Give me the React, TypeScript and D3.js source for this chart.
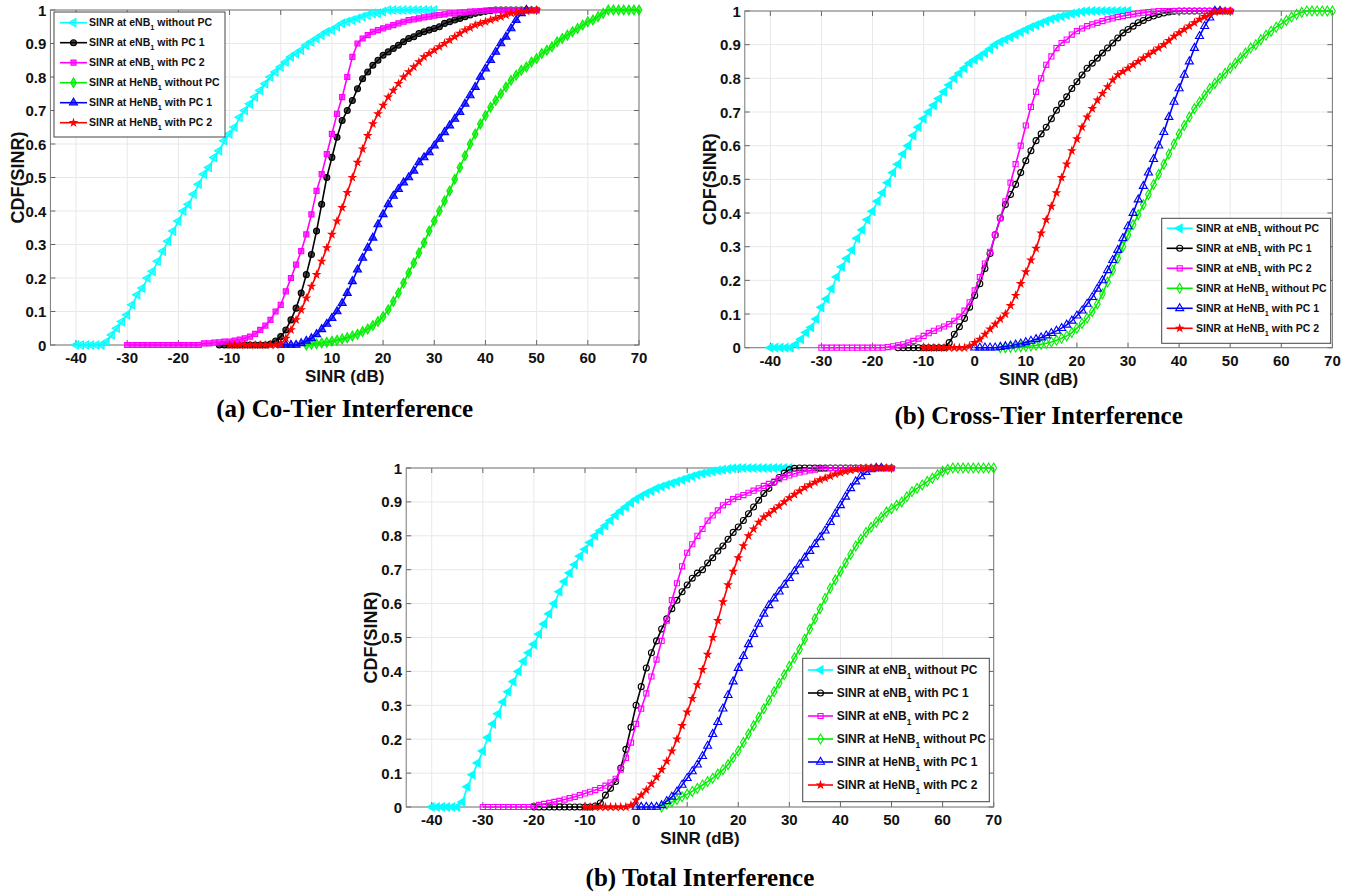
import React from 'react';
import * as d3 from 'd3';

// ---------- axes / labels ----------
const X_DOMAIN: [number, number] = [-45, 70];
const X_TICKS = [-40, -30, -20, -10, 0, 10, 20, 30, 40, 50, 60, 70];
const Y_TICKS = [0, 0.1, 0.2, 0.3, 0.4, 0.5, 0.6, 0.7, 0.8, 0.9, 1];
const X_LABEL = 'SINR (dB)';
const Y_LABEL = 'CDF(SINR)';
const TITLES = ['(a) Co-Tier Interference', '(b) Cross-Tier Interference', '(b) Total Interference'];

// ---------- series ----------
const LEGEND_PREFIX = ['SINR at eNB', 'SINR at eNB', 'SINR at eNB', 'SINR at HeNB', 'SINR at HeNB', 'SINR at HeNB'];
const LEGEND_SUB = ['1', '1', '1', '1', '1', '1'];
const LEGEND_SUFFIX = [' without PC', ' with PC 1', ' with PC 2', ' without PC', ' with PC 1', ' with PC 2'];
const SERIES_COLORS = ['#00ffff', '#000000', '#ff00ff', '#00ee00', '#0000ff', '#ff0000'];
const SERIES_MARKERS = ['triLeft', 'circle', 'square', 'diamond', 'triUp', 'star'];

// SINR grid step (dB) for all curves
const STEP_DB = 1;

// (a) Co-Tier Interference: first SINR value (dB) of each series
const CO_TIER_START = [-40, -12, -30, 5, 0, -10];
const coTierEnbNoPc = [0, 0, 0, 0, 0, 0, 0.01, 0.03, 0.05, 0.07, 0.09, 0.12, 0.15, 0.17, 0.2, 0.22, 0.25, 0.28, 0.31, 0.34, 0.37, 0.4, 0.42, 0.45, 0.48, 0.51, 0.53, 0.56, 0.58, 0.61, 0.63, 0.65, 0.68, 0.7, 0.72, 0.74, 0.76, 0.78, 0.8, 0.815, 0.83, 0.845, 0.86, 0.87, 0.88, 0.895, 0.905, 0.915, 0.925, 0.935, 0.94, 0.95, 0.96, 0.965, 0.97, 0.975, 0.98, 0.985, 0.99, 0.99, 0.995, 1, 1, 1, 1, 1, 1, 1, 1, 1, 1];
const coTierEnbPc1 = [0, 0, 0, 0, 0, 0, 0, 0, 0, 0, 0.003, 0.012, 0.025, 0.045, 0.075, 0.11, 0.155, 0.21, 0.27, 0.34, 0.42, 0.5, 0.56, 0.62, 0.67, 0.7, 0.73, 0.765, 0.795, 0.815, 0.835, 0.85, 0.865, 0.875, 0.885, 0.895, 0.905, 0.915, 0.92, 0.93, 0.935, 0.94, 0.945, 0.95, 0.96, 0.965, 0.97, 0.975, 0.98, 0.985, 0.99, 0.993, 0.996, 0.998, 1, 1, 1, 1, 1, 1, 1, 1, 1];
const coTierEnbPc2 = [0, 0, 0, 0, 0, 0, 0, 0, 0, 0, 0, 0, 0, 0, 0, 0.005, 0.005, 0.007, 0.008, 0.01, 0.01, 0.013, 0.016, 0.02, 0.025, 0.033, 0.045, 0.058, 0.075, 0.1, 0.12, 0.16, 0.2, 0.24, 0.28, 0.33, 0.39, 0.46, 0.51, 0.57, 0.63, 0.69, 0.74, 0.8, 0.86, 0.9, 0.915, 0.925, 0.935, 0.94, 0.945, 0.95, 0.955, 0.96, 0.965, 0.97, 0.972, 0.975, 0.978, 0.98, 0.983, 0.985, 0.987, 0.99, 0.99, 0.992, 0.993, 0.995, 0.996, 0.997, 0.998, 1, 1, 1, 1, 1, 1, 1, 1, 1, 1];
const coTierHenbNoPc = [0, 0.002, 0.004, 0.006, 0.008, 0.011, 0.014, 0.018, 0.022, 0.027, 0.032, 0.04, 0.048, 0.058, 0.07, 0.085, 0.105, 0.13, 0.155, 0.185, 0.215, 0.245, 0.275, 0.305, 0.34, 0.37, 0.4, 0.43, 0.46, 0.495, 0.53, 0.565, 0.6, 0.63, 0.66, 0.685, 0.71, 0.73, 0.75, 0.77, 0.79, 0.805, 0.82, 0.83, 0.845, 0.855, 0.87, 0.88, 0.89, 0.905, 0.915, 0.925, 0.935, 0.945, 0.955, 0.965, 0.97, 0.98, 0.99, 1, 1, 1, 1, 1, 1, 1];
const coTierHenbPc1 = [0, 0, 0, 0, 0.005, 0.012, 0.02, 0.032, 0.047, 0.063, 0.08, 0.1, 0.125, 0.155, 0.19, 0.225, 0.26, 0.29, 0.32, 0.36, 0.39, 0.42, 0.445, 0.465, 0.485, 0.5, 0.52, 0.545, 0.56, 0.575, 0.595, 0.615, 0.635, 0.655, 0.675, 0.695, 0.72, 0.745, 0.77, 0.8, 0.825, 0.85, 0.875, 0.9, 0.92, 0.945, 0.97, 0.99, 1];
const coTierHenbPc2 = [0, 0, 0, 0, 0, 0, 0, 0, 0, 0, 0.003, 0.02, 0.045, 0.075, 0.105, 0.14, 0.175, 0.21, 0.25, 0.29, 0.33, 0.37, 0.41, 0.455, 0.5, 0.545, 0.585, 0.625, 0.66, 0.69, 0.715, 0.74, 0.76, 0.78, 0.8, 0.815, 0.83, 0.845, 0.86, 0.87, 0.88, 0.89, 0.9, 0.91, 0.92, 0.93, 0.94, 0.947, 0.955, 0.96, 0.965, 0.97, 0.975, 0.98, 0.985, 0.99, 0.992, 0.995, 0.997, 0.999, 1];

// (b) Cross-Tier Interference
const CROSS_TIER_START = [-40, -15, -30, 5, 0, -10];
const crossTierEnbNoPc = [0, 0, 0, 0, 0, 0.01, 0.025, 0.045, 0.06, 0.085, 0.12, 0.145, 0.175, 0.21, 0.24, 0.265, 0.29, 0.325, 0.35, 0.38, 0.405, 0.435, 0.46, 0.49, 0.52, 0.545, 0.575, 0.6, 0.63, 0.655, 0.68, 0.7, 0.72, 0.74, 0.76, 0.78, 0.8, 0.815, 0.83, 0.845, 0.855, 0.865, 0.875, 0.887, 0.9, 0.908, 0.915, 0.922, 0.93, 0.937, 0.945, 0.952, 0.958, 0.964, 0.97, 0.976, 0.98, 0.984, 0.988, 0.992, 0.995, 0.998, 1, 1, 1, 1, 1, 1, 1, 1, 1];
const crossTierEnbPc1 = [0, 0, 0, 0, 0, 0, 0, 0, 0, 0, 0.015, 0.04, 0.062, 0.087, 0.12, 0.155, 0.19, 0.235, 0.28, 0.335, 0.385, 0.425, 0.455, 0.485, 0.52, 0.555, 0.585, 0.615, 0.635, 0.655, 0.68, 0.705, 0.725, 0.745, 0.77, 0.79, 0.81, 0.83, 0.845, 0.86, 0.875, 0.89, 0.905, 0.92, 0.935, 0.945, 0.955, 0.965, 0.972, 0.98, 0.985, 0.99, 0.994, 0.997, 0.999, 1, 1, 1, 1, 1, 1, 1, 1, 1, 1, 1];
const crossTierEnbPc2 = [0, 0, 0, 0, 0, 0, 0, 0, 0, 0, 0, 0, 0, 0.002, 0.004, 0.007, 0.01, 0.015, 0.02, 0.027, 0.035, 0.043, 0.05, 0.057, 0.063, 0.07, 0.08, 0.092, 0.11, 0.135, 0.17, 0.21, 0.25, 0.285, 0.335, 0.385, 0.435, 0.49, 0.545, 0.6, 0.66, 0.715, 0.76, 0.8, 0.84, 0.865, 0.89, 0.905, 0.915, 0.93, 0.94, 0.948, 0.955, 0.96, 0.965, 0.97, 0.975, 0.978, 0.982, 0.985, 0.988, 0.99, 0.993, 0.995, 0.997, 0.998, 1, 1, 1, 1, 1, 1, 1, 1, 1, 1, 1, 1, 1, 1, 1];
const crossTierHenbNoPc = [0, 0, 0.001, 0.002, 0.003, 0.004, 0.005, 0.007, 0.01, 0.013, 0.017, 0.022, 0.028, 0.035, 0.045, 0.058, 0.072, 0.088, 0.107, 0.13, 0.16, 0.195, 0.23, 0.265, 0.3, 0.335, 0.365, 0.395, 0.425, 0.455, 0.485, 0.515, 0.545, 0.575, 0.605, 0.635, 0.66, 0.685, 0.71, 0.73, 0.75, 0.77, 0.785, 0.8, 0.815, 0.83, 0.845, 0.86, 0.875, 0.89, 0.9, 0.915, 0.928, 0.94, 0.952, 0.962, 0.972, 0.982, 0.99, 0.996, 1, 1, 1, 1, 1, 1];
const crossTierHenbPc1 = [0, 0, 0, 0, 0, 0.002, 0.004, 0.006, 0.009, 0.012, 0.016, 0.02, 0.025, 0.03, 0.036, 0.043, 0.05, 0.058, 0.068, 0.08, 0.095, 0.11, 0.13, 0.15, 0.175, 0.2, 0.23, 0.26, 0.29, 0.325, 0.36, 0.4, 0.44, 0.48, 0.52, 0.56, 0.6, 0.64, 0.685, 0.73, 0.77, 0.81, 0.85, 0.89, 0.925, 0.955, 0.98, 1, 1];
const crossTierHenbPc2 = [0, 0, 0, 0, 0, 0, 0, 0, 0, 0.005, 0.015, 0.025, 0.04, 0.055, 0.07, 0.085, 0.1, 0.125, 0.155, 0.19, 0.225, 0.26, 0.295, 0.34, 0.38, 0.42, 0.46, 0.505, 0.545, 0.585, 0.62, 0.655, 0.685, 0.71, 0.735, 0.755, 0.775, 0.795, 0.81, 0.82, 0.83, 0.84, 0.85, 0.86, 0.87, 0.88, 0.89, 0.9, 0.912, 0.925, 0.935, 0.945, 0.955, 0.965, 0.975, 0.983, 0.99, 0.997, 1, 1, 1];

// (c) Total Interference
const TOTAL_START = [-40, -20, -30, 5, 0, -10];
const totalEnbNoPc = [0, 0, 0, 0, 0, 0, 0.015, 0.06, 0.095, 0.13, 0.165, 0.205, 0.245, 0.275, 0.31, 0.34, 0.37, 0.4, 0.43, 0.455, 0.48, 0.51, 0.54, 0.57, 0.6, 0.635, 0.665, 0.69, 0.715, 0.74, 0.76, 0.78, 0.8, 0.815, 0.83, 0.845, 0.86, 0.873, 0.885, 0.897, 0.908, 0.917, 0.925, 0.932, 0.94, 0.945, 0.95, 0.955, 0.96, 0.965, 0.97, 0.975, 0.98, 0.984, 0.987, 0.99, 0.993, 0.995, 0.997, 0.999, 1, 1, 1, 1, 1, 1, 1, 1, 1, 1, 1];
const totalEnbPc1 = [0, 0, 0, 0, 0, 0, 0, 0, 0, 0, 0, 0, 0.003, 0.012, 0.035, 0.055, 0.075, 0.115, 0.17, 0.235, 0.3, 0.355, 0.41, 0.455, 0.49, 0.525, 0.555, 0.585, 0.61, 0.635, 0.655, 0.675, 0.69, 0.7, 0.72, 0.735, 0.755, 0.77, 0.79, 0.81, 0.826, 0.845, 0.865, 0.885, 0.905, 0.925, 0.94, 0.958, 0.972, 0.985, 0.995, 0.999, 1, 1, 1, 1, 1, 1, 1, 1, 1, 1, 1, 1, 1, 1, 1, 1, 1, 1, 1];
const totalEnbPc2 = [0, 0, 0, 0, 0, 0, 0, 0, 0, 0, 0.003, 0.006, 0.009, 0.012, 0.015, 0.018, 0.022, 0.026, 0.03, 0.035, 0.04, 0.045, 0.05, 0.056, 0.063, 0.072, 0.083, 0.11, 0.145, 0.19, 0.245, 0.29, 0.335, 0.385, 0.435, 0.49, 0.55, 0.61, 0.66, 0.71, 0.75, 0.775, 0.8, 0.82, 0.845, 0.86, 0.875, 0.89, 0.9, 0.908, 0.915, 0.92, 0.927, 0.933, 0.94, 0.947, 0.953, 0.96, 0.967, 0.973, 0.978, 0.983, 0.987, 0.99, 0.993, 0.995, 0.997, 0.998, 1, 1, 1, 1, 1, 1, 1, 1, 1, 1, 1, 1, 1];
const totalHenbNoPc = [0, 0.008, 0.015, 0.022, 0.03, 0.038, 0.046, 0.055, 0.065, 0.075, 0.085, 0.097, 0.11, 0.125, 0.145, 0.165, 0.19, 0.215, 0.24, 0.265, 0.29, 0.315, 0.34, 0.365, 0.39, 0.415, 0.44, 0.465, 0.495, 0.525, 0.555, 0.585, 0.615, 0.645, 0.67, 0.695, 0.72, 0.745, 0.77, 0.79, 0.81, 0.825, 0.84, 0.855, 0.87, 0.88, 0.89, 0.9, 0.915, 0.93, 0.94, 0.95, 0.96, 0.97, 0.98, 0.99, 0.996, 1, 1, 1, 1, 1, 1, 1, 1, 1];
const totalHenbPc1 = [0, 0, 0, 0, 0, 0.005, 0.017, 0.03, 0.045, 0.065, 0.085, 0.105, 0.125, 0.15, 0.18, 0.215, 0.25, 0.29, 0.33, 0.37, 0.41, 0.445, 0.48, 0.51, 0.54, 0.57, 0.595, 0.615, 0.635, 0.655, 0.675, 0.695, 0.715, 0.735, 0.755, 0.775, 0.795, 0.815, 0.84, 0.865, 0.89, 0.915, 0.94, 0.96, 0.975, 0.988, 0.996, 1, 1];
const totalHenbPc2 = [0, 0, 0, 0, 0, 0, 0, 0, 0, 0.005, 0.02, 0.035, 0.05, 0.068, 0.088, 0.11, 0.135, 0.165, 0.2, 0.24, 0.28, 0.32, 0.36, 0.405, 0.45, 0.5, 0.55, 0.605, 0.655, 0.695, 0.735, 0.77, 0.8, 0.82, 0.84, 0.855, 0.865, 0.877, 0.888, 0.9, 0.912, 0.922, 0.932, 0.942, 0.95, 0.958, 0.965, 0.97, 0.976, 0.982, 0.986, 0.99, 0.993, 0.996, 0.998, 1, 1, 1, 1, 1, 1];

// ---------- layout (positions only) ----------
type Layout = {
  left: number; right: number; top: number; bottom: number;
  titleY: number; yLabelX: number;
  legend: { x: number; y: number; w: number; h: number; row0: number; rowGap: number; l0: number; l1: number; tx: number; font: number };
};

const LAYOUTS: Layout[] = [
  { left: 50.4, right: 639, top: 10, bottom: 345, titleY: 417, yLabelX: 24,
    legend: { x: 54, y: 12, w: 171, h: 125, row0: 22.7, rowGap: 20, l0: 60, l1: 87, tx: 89, font: 10.5 } },
  { left: 744.8, right: 1332.4, top: 11, bottom: 347.7, titleY: 424, yLabelX: 716,
    legend: { x: 1161.7, y: 218.3, w: 169, h: 125, row0: 228.3, rowGap: 20, l0: 1166.7, l1: 1192.7, tx: 1196, font: 10.5 } },
  { left: 406.2, right: 993.7, top: 468, bottom: 807, titleY: 886, yLabelX: 377,
    legend: { x: 802.7, y: 658.3, w: 186.6, h: 143.4, row0: 670, rowGap: 23, l0: 808, l1: 833, tx: 836.7, font: 12 } },
];

const PANEL_STARTS = [CO_TIER_START, CROSS_TIER_START, TOTAL_START];
const PANEL_DATA = [
  [coTierEnbNoPc, coTierEnbPc1, coTierEnbPc2, coTierHenbNoPc, coTierHenbPc1, coTierHenbPc2],
  [crossTierEnbNoPc, crossTierEnbPc1, crossTierEnbPc2, crossTierHenbNoPc, crossTierHenbPc1, crossTierHenbPc2],
  [totalEnbNoPc, totalEnbPc1, totalEnbPc2, totalHenbNoPc, totalHenbPc1, totalHenbPc2],
];

const SANS = '"Liberation Sans", Arial, Helvetica, sans-serif';
const SERIF = '"Liberation Serif", "Times New Roman", Times, serif';
const TICK_FONT = 15;

function markerPath(kind: string): { d: string; rot: number } {
  switch (kind) {
    case 'triLeft': return { d: d3.symbol(d3.symbolTriangle, 30)() as string, rot: -90 };
    case 'circle': return { d: d3.symbol(d3.symbolCircle, 28)() as string, rot: 0 };
    case 'square': return { d: d3.symbol(d3.symbolSquare, 26)() as string, rot: 0 };
    case 'diamond': return { d: d3.symbol(d3.symbolDiamond, 28)() as string, rot: 0 };
    case 'triUp': return { d: d3.symbol(d3.symbolTriangle, 28)() as string, rot: 0 };
    default: return { d: d3.symbol(d3.symbolStar, 13)() as string, rot: 0 };
  }
}

function markerFill(i: number, panel: number): string {
  const kind = SERIES_MARKERS[i];
  if (kind === 'triLeft' || kind === 'star') return SERIES_COLORS[i];
  return panel === 0 ? SERIES_COLORS[i] : 'none';
}

function Panel({ idx }: { idx: number }) {
  const L = LAYOUTS[idx];
  const starts = PANEL_STARTS[idx];
  const data = PANEL_DATA[idx];
  const x = d3.scaleLinear().domain(X_DOMAIN).range([L.left, L.right]);
  const y = d3.scaleLinear().domain([0, 1]).range([L.bottom, L.top]);
  const line = d3.line<[number, number]>().x((d) => x(d[0])).y((d) => y(d[1]));
  const cx = (L.left + L.right) / 2;
  const cy = (L.top + L.bottom) / 2;
  const tick = 5;
  const lg = L.legend;

  return (
    <g>
      <rect x={L.left} y={L.top} width={L.right - L.left} height={L.bottom - L.top} fill="#ffffff" />
      {X_TICKS.map((t) => (
        <line key={'gx' + t} x1={x(t)} x2={x(t)} y1={L.top} y2={L.bottom} stroke="#e8e8e8" strokeWidth={1} />
      ))}
      {Y_TICKS.map((t) => (
        <line key={'gy' + t} x1={L.left} x2={L.right} y1={y(t)} y2={y(t)} stroke="#e8e8e8" strokeWidth={1} />
      ))}
      {X_TICKS.map((t) => (
        <g key={'tx' + t}>
          <line x1={x(t)} x2={x(t)} y1={L.bottom} y2={L.bottom - tick} stroke="#666" />
          <line x1={x(t)} x2={x(t)} y1={L.top} y2={L.top + tick} stroke="#666" />
          <text x={x(t)} y={L.bottom + 18} textAnchor="middle" fontFamily={SANS} fontWeight="bold" fontSize={TICK_FONT} fill="#111">{t}</text>
        </g>
      ))}
      {Y_TICKS.map((t) => (
        <g key={'ty' + t}>
          <line x1={L.left} x2={L.left + tick} y1={y(t)} y2={y(t)} stroke="#666" />
          <line x1={L.right} x2={L.right - tick} y1={y(t)} y2={y(t)} stroke="#666" />
          <text x={L.left - 4} y={y(t) + 5.5} textAnchor="end" fontFamily={SANS} fontWeight="bold" fontSize={TICK_FONT} fill="#111">{String(+t.toFixed(1))}</text>
        </g>
      ))}
      <rect x={L.left} y={L.top} width={L.right - L.left} height={L.bottom - L.top} fill="none" stroke="#777" strokeWidth={1} />

      {data.map((vals, i) => {
        const pts: [number, number][] = vals.map((v, k) => [starts[i] + k * STEP_DB, v]);
        const m = markerPath(SERIES_MARKERS[i]);
        const fill = markerFill(i, idx);
        return (
          <g key={'s' + i}>
            <path d={line(pts) as string} fill="none" stroke={SERIES_COLORS[i]} strokeWidth={1.6} />
            {pts.map((p, k) => (
              <path key={k} d={m.d} transform={`translate(${x(p[0])},${y(p[1])}) rotate(${m.rot})`}
                fill={fill} fillOpacity={idx === 0 ? 0.7 : 1} stroke={SERIES_COLORS[i]} strokeWidth={1.1} />
            ))}
          </g>
        );
      })}

      <rect x={lg.x} y={lg.y} width={lg.w} height={lg.h} fill="#ffffff" stroke="#444" strokeWidth={1} />
      {SERIES_COLORS.map((c, i) => {
        const ry = lg.row0 + i * lg.rowGap;
        const m = markerPath(SERIES_MARKERS[i]);
        return (
          <g key={'lg' + i}>
            <line x1={lg.l0} x2={lg.l1} y1={ry} y2={ry} stroke={c} strokeWidth={1.6} />
            <path d={m.d} transform={`translate(${(lg.l0 + lg.l1) / 2},${ry}) rotate(${m.rot})`}
              fill={markerFill(i, idx)} fillOpacity={idx === 0 ? 0.7 : 1} stroke={c} strokeWidth={1.1} />
            <text x={lg.tx} y={ry + lg.font * 0.36} fontFamily={SANS} fontWeight="bold" fontSize={lg.font} fill="#111" style={{ whiteSpace: 'pre' }}>
              <tspan>{LEGEND_PREFIX[i]}</tspan>
              <tspan dy={lg.font * 0.35} fontSize={lg.font * 0.7}>{LEGEND_SUB[i]}</tspan>
              <tspan dy={-lg.font * 0.35}>{LEGEND_SUFFIX[i]}</tspan>
            </text>
          </g>
        );
      })}

      <text x={cx} y={L.bottom + 37} textAnchor="middle" fontFamily={SANS} fontWeight="bold" fontSize={17} fill="#111">{X_LABEL}</text>
      <text transform={`translate(${L.yLabelX},${cy}) rotate(-90)`} textAnchor="middle" fontFamily={SANS} fontWeight="bold" fontSize={18} fill="#111">{Y_LABEL}</text>
      <text x={cx} y={L.titleY} textAnchor="middle" fontFamily={SERIF} fontWeight="bold" fontSize={25} fill="#000">{TITLES[idx]}</text>
    </g>
  );
}

export default function App() {
  return (
    <svg width={1363} height={896} viewBox="0 0 1363 896"
      style={{ position: 'absolute', left: 0, top: 0, display: 'block', background: '#ffffff' }}>
      <rect x={0} y={0} width={1363} height={896} fill="#ffffff" />
      {LAYOUTS.map((_, i) => <Panel key={i} idx={i} />)}
    </svg>
  );
}
